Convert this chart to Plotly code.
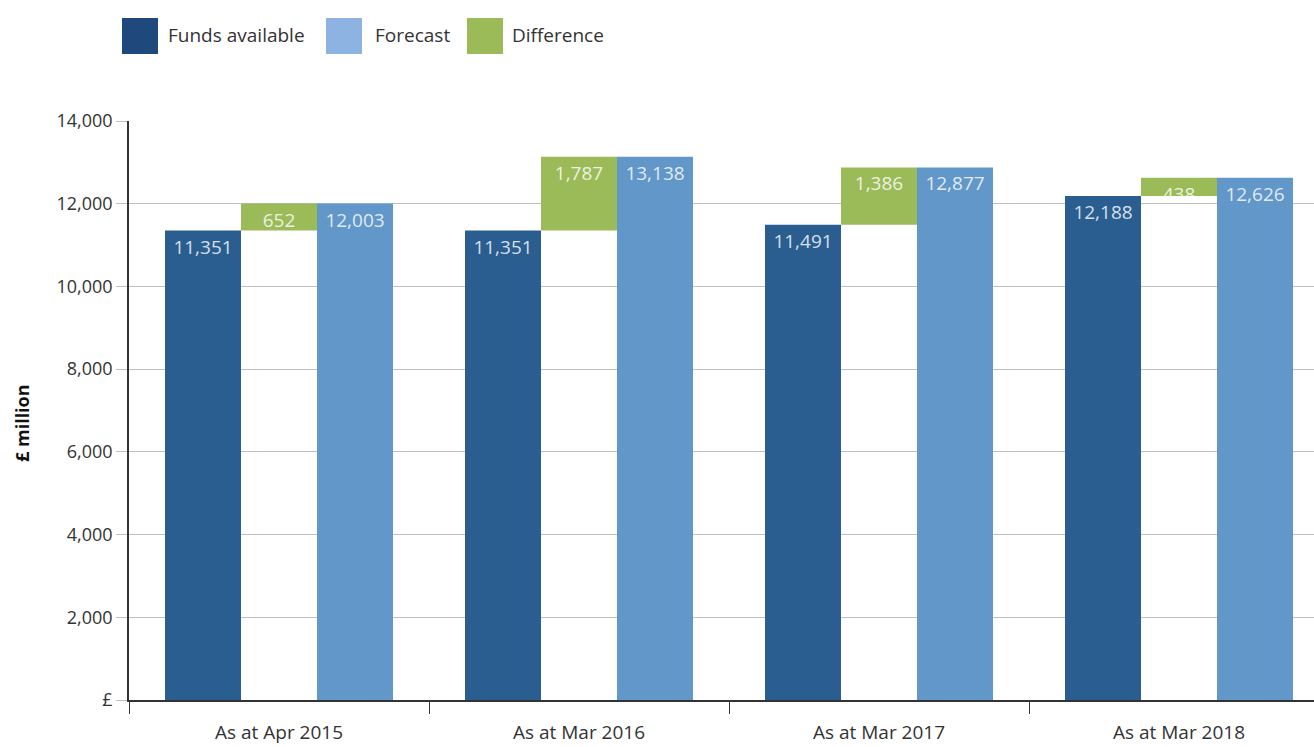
import plotly.graph_objects as go

categories = ["As at Apr 2015", "As at Mar 2016", "As at Mar 2017", "As at Mar 2018"]
funds_available = [11351, 11351, 11491, 12188]
forecast = [12003, 13138, 12877, 12626]
difference = [652, 1787, 1386, 438]
y_ticks = [0, 2000, 4000, 6000, 8000, 10000, 12000, 14000]
y_tick_labels = ["£", "2,000", "4,000", "6,000", "8,000", "10,000", "12,000", "14,000"]

FONT = "Open Sans"
BAR_DARK = "#2a5e91"
BAR_LIGHT = "#6297c9"
GREEN = "#9bbb59"
LEG_DARK = "#1f497d"
LEG_LIGHT = "#8db3e2"
LABEL_COLOR = "rgba(255,255,255,0.82)"

def fmt(v):
    return f"{v:,}"

fig = go.Figure()
common = dict(textposition="inside", insidetextanchor="end", textangle=0,
              constraintext="none", cliponaxis=True,
              textfont=dict(family=FONT, size=19, color=LABEL_COLOR),
              showlegend=False, hoverinfo="skip")
fig.add_trace(go.Bar(name="Funds available", x=categories, y=funds_available,
                     marker=dict(color=BAR_DARK, line=dict(width=0)),
                     text=[fmt(v) for v in funds_available], **common))
fig.add_trace(go.Bar(name="Difference", x=categories, y=difference, base=funds_available,
                     marker=dict(color=GREEN, line=dict(width=0)),
                     text=[fmt(v) for v in difference], **common))
fig.add_trace(go.Bar(name="Forecast", x=categories, y=forecast,
                     marker=dict(color=BAR_LIGHT, line=dict(width=0)),
                     text=[fmt(v) for v in forecast], **common))

# Legend drawn as swatches + text
legend_items = [("Funds available", LEG_DARK, 122, 166),
                ("Forecast", LEG_LIGHT, 326, 373),
                ("Difference", GREEN, 467, 510)]
W, H = 1314, 747
ML, MR, MT, MB = 129, 0, 121, 47
pw, ph = W - ML - MR, H - MT - MB
shapes = []
annotations = []
for name, col, sx, tx in legend_items:
    shapes.append(dict(type="rect", xref="paper", yref="paper",
                       x0=(sx - ML) / pw, x1=(sx + 36 - ML) / pw,
                       y0=(H - MB - 54) / ph, y1=(H - MB - 18) / ph,
                       fillcolor=col, line=dict(width=0)))
    annotations.append(dict(text=name, xref="paper", yref="paper",
                            x=(tx - ML) / pw, y=(H - MB - 35) / ph,
                            xanchor="left", yanchor="middle", showarrow=False,
                            font=dict(family=FONT, size=19, color="#333333")))
annotations.append(dict(text="<b>£ million</b>", xref="paper", yref="paper",
                        x=(22 - ML) / pw, y=(H - MB - 423) / ph, textangle=-90,
                        xanchor="center", yanchor="middle", showarrow=False,
                        font=dict(family=FONT, size=18, color="#111111")))

fig.update_layout(
    width=W, height=H,
    margin=dict(l=ML, r=MR, t=MT, b=MB, autoexpand=False),
    paper_bgcolor="white", plot_bgcolor="white",
    barmode="group", bargap=0.24, bargroupgap=0,
    uniformtext=dict(minsize=19, mode="show"),
    shapes=shapes, annotations=annotations,
    showlegend=False,
    font=dict(family=FONT, color="#333333"),
    xaxis=dict(type="category", range=[-0.5, -0.5 + pw / 300.0],
               tickson="boundaries", ticks="outside", ticklen=12, tickcolor="#333333",
               ticklabelstandoff=14,
               showline=True, linecolor="#333333", linewidth=1.5,
               showgrid=False, tickfont=dict(family=FONT, size=19, color="#333333"),
               automargin=False),
    yaxis=dict(range=[0, 14000], tickvals=y_ticks, ticktext=y_tick_labels,
               ticks="outside", ticklen=11, tickcolor="#bfbfbf",
               showline=True, linecolor="#333333", linewidth=1.5,
               showgrid=True, gridcolor="#bfbfbf", gridwidth=1,
               zeroline=False,
               tickfont=dict(family=FONT, size=18, color="#333333"),
               automargin=False),
)

fig.write_html("out.html", config={"displayModeBar": False},
               post_script="document.body.style.margin='0';document.body.style.overflow='hidden';")
